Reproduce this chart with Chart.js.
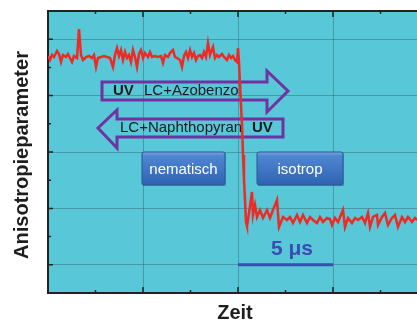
<!DOCTYPE html>
<html>
<head>
<meta charset="utf-8">
<script src="https://cdn.jsdelivr.net/npm/chart.js@4"></script>
<style>
  html, body { margin: 0; padding: 0; background: #fff; overflow: hidden; }
  #wrap { width: 417px; height: 320px; overflow: hidden; }
</style>
</head>
<body>
<div id="wrap"><canvas id="chart" width="423" height="320"></canvas></div>
<script>
// time in samples (95 samples = 5 µs), signal in arbitrary units
const TIME = [0, 2, 4, 6, 9, 11, 13, 15, 18, 20, 22, 24, 26, 29, 31, 33, 35, 38, 41, 44,
  46, 48, 50, 53, 56, 59, 62, 65, 67, 69, 71, 73, 75, 77, 79, 81, 83, 85, 87, 89,
  91, 93, 95, 97, 100, 102, 104, 107, 110, 113, 115, 117, 120, 122, 125, 127, 129, 132, 134, 136,
  138, 140, 142, 144, 146, 148, 150, 152, 154, 156, 158, 160, 162, 165, 167, 169, 171, 174, 176, 179,
  181, 183, 185, 187, 189, 190, 191, 192, 193, 194, 195, 196, 197, 198, 199, 201, 204, 205, 207, 209,
  212, 215, 219, 222, 225, 229, 231, 235, 239, 242, 245, 249, 252, 255, 259, 262, 265, 269, 272, 275,
  279, 282, 284, 287, 290, 295, 297, 300, 304, 307, 310, 314, 317, 320, 322, 325, 329, 330, 334, 337,
  340, 344, 347, 350, 354, 357, 360, 364, 367, 371, 375];
const SIGNAL = [237, 233, 238, 236, 242, 239, 231, 238, 236, 239, 235, 231, 237, 235, 264, 238, 233, 236, 237, 235,
  238, 226, 235, 236, 237, 236, 235, 226, 238, 245, 237, 243, 233, 241, 235, 238, 231, 243, 236, 226,
  239, 243, 235, 240, 236, 241, 236, 237, 236, 237, 230, 238, 236, 240, 243, 236, 235, 233, 226, 237,
  241, 235, 243, 236, 240, 233, 237, 238, 235, 241, 236, 250, 238, 246, 235, 238, 236, 239, 236, 233,
  238, 235, 237, 233, 231, 245, 231, 208, 188, 168, 138, 113, 93, 71, 67, 80, 101, 78, 88, 76,
  83, 75, 83, 75, 83, 93, 66, 76, 73, 76, 70, 78, 71, 78, 70, 76, 73, 70, 76, 71,
  75, 74, 68, 75, 71, 83, 66, 75, 70, 75, 73, 76, 70, 80, 66, 76, 78, 68, 76, 80,
  68, 75, 78, 66, 76, 71, 76, 71, 75, 72, 74];
const X_TICKS = [0, 47.5, 95, 142.5, 190, 237.5, 285, 332.5];
const Y_TICKS = [0, 28.2, 56.4, 84.6, 112.8, 141, 169.2, 197.4, 225.6, 253.8, 282];

const FONT = '"Liberation Sans", Arial, sans-serif';
const PURPLE = '#7133a2';
const GRID = 'rgba(60,115,125,0.55)';

const decor = {
  id: 'decor',
  beforeDraw(chart) {
    const {ctx, chartArea: a} = chart;
    ctx.save();
    ctx.fillStyle = '#58c7d8';
    ctx.fillRect(a.left, a.top, a.right - a.left, a.bottom - a.top);
    ctx.restore();
  },
  beforeDatasetsDraw(chart) {
    const {ctx} = chart;
    const px = t => chart.scales.x.getPixelForValue(t);
    const py = s => chart.scales.y.getPixelForValue(s);
    ctx.save();
    // arrows
    ctx.strokeStyle = PURPLE;
    ctx.lineWidth = 3;
    ctx.lineJoin = 'miter';
    const poly = pts => {
      ctx.beginPath();
      pts.forEach((p, i) => i ? ctx.lineTo(px(p[0]), py(p[1])) : ctx.moveTo(px(p[0]), py(p[1])));
      ctx.closePath();
      ctx.stroke();
    };
    poly([[54, 211], [219, 211], [219, 222], [240, 202], [219, 181], [219, 193], [54, 193]]);
    poly([[50, 165], [69, 183], [69, 174], [235, 174], [235, 156], [69, 156], [69, 145]]);
    ctx.fillStyle = '#1b1b1b';
    ctx.textBaseline = 'middle';
    ctx.textAlign = 'left';
    ctx.font = 'bold 15px ' + FONT;
    ctx.fillText('UV', px(65), py(202));
    ctx.fillText('UV', px(204), py(165));
    ctx.font = '15px ' + FONT;
    ctx.fillText('LC+Azobenzol', px(96), py(202));
    ctx.fillText('LC+Naphthopyran', px(72), py(165));
    // state boxes
    const box = (t0, t1, s0, s1, label) => {
      const x0 = px(t0), x1 = px(t1), y0 = py(s0), y1 = py(s1);
      ctx.fillStyle = 'rgba(30,60,110,0.35)';
      ctx.fillRect(x0 + 1, y0 + 1, x1 - x0, y1 - y0);
      const g = ctx.createLinearGradient(0, y0, 0, y1);
      g.addColorStop(0, '#78a6e4');
      g.addColorStop(0.12, '#4f86d0');
      g.addColorStop(1, '#2e63b2');
      ctx.fillStyle = g;
      ctx.beginPath();
      ctx.roundRect(x0, y0, x1 - x0, y1 - y0, 2);
      ctx.fill();
      ctx.strokeStyle = '#2a5698';
      ctx.lineWidth = 1;
      ctx.stroke();
      ctx.fillStyle = '#ffffff';
      ctx.font = '15px ' + FONT;
      ctx.textAlign = 'center';
      ctx.fillText(label, (x0 + x1) / 2, (y0 + y1) / 2 + 1);
    };
    box(94, 177, 141, 108, 'nematisch');
    box(209, 295, 141, 108, 'isotrop');
    ctx.restore();
  },
  afterDatasetsDraw(chart) {
    const {ctx, chartArea: a} = chart;
    const px = t => chart.scales.x.getPixelForValue(t);
    const py = s => chart.scales.y.getPixelForValue(s);
    ctx.save();
    // scale bar: 5 µs = 95 samples
    ctx.strokeStyle = '#3a4db0';
    ctx.lineWidth = 3;
    ctx.beginPath();
    ctx.moveTo(px(190), py(28.2));
    ctx.lineTo(px(285), py(28.2));
    ctx.stroke();
    ctx.fillStyle = '#3a4db0';
    ctx.font = 'bold 21px ' + FONT;
    ctx.textAlign = 'center';
    ctx.textBaseline = 'middle';
    ctx.fillText('5 μs', px(244), py(44));
    // frame top + inward ticks
    ctx.strokeStyle = '#222';
    ctx.lineWidth = 2;
    ctx.beginPath();
    ctx.moveTo(a.left - 1, a.top);
    ctx.lineTo(a.right, a.top);
    ctx.stroke();
    ctx.lineWidth = 1.5;
    ctx.beginPath();
    X_TICKS.forEach((t, i) => {
      if (i === 0) return;
      const x = px(t), len = i % 2 === 0 ? 6 : 3;
      ctx.moveTo(x, a.bottom); ctx.lineTo(x, a.bottom - len);
      ctx.moveTo(x, a.top); ctx.lineTo(x, a.top + len);
    });
    Y_TICKS.forEach((s, i) => {
      if (i === 0 || i === Y_TICKS.length - 1) return;
      const y = py(s), len = i % 2 === 1 ? 5 : 3;
      ctx.moveTo(a.left, y); ctx.lineTo(a.left + len, y);
    });
    ctx.stroke();
    // axis titles
    ctx.fillStyle = '#1e1e1e';
    ctx.font = 'bold 20px ' + FONT;
    ctx.textAlign = 'center';
    ctx.textBaseline = 'alphabetic';
    ctx.fillText('Zeit', 235, 319);
    ctx.translate(28, 155);
    ctx.rotate(-Math.PI / 2);
    ctx.fillText('Anisotropieparameter', 0, 0);
    ctx.restore();
  }
};

new Chart(document.getElementById('chart'), {
  type: 'line',
  data: {
    datasets: [{
      data: TIME.map((t, i) => ({x: t, y: SIGNAL[i]})),
      borderColor: '#ee2a24',
      borderWidth: 2.5,
      pointRadius: 0,
      tension: 0
    }]
  },
  options: {
    responsive: false,
    animation: false,
    devicePixelRatio: 1,
    layout: {padding: {left: 48, top: 11, right: 0, bottom: 27}},
    plugins: {legend: {display: false}, tooltip: {enabled: false}},
    scales: {
      x: {
        type: 'linear', min: 0, max: 375,
        afterBuildTicks: s => { s.ticks = X_TICKS.map(v => ({value: v})); },
        ticks: {display: false},
        grid: {drawTicks: false, color: c => (c.index % 2 === 0 && c.index > 0) ? GRID : 'transparent'},
        border: {color: '#222', width: 2}
      },
      y: {
        min: 0, max: 282,
        afterBuildTicks: s => { s.ticks = Y_TICKS.map(v => ({value: v})); },
        ticks: {display: false},
        grid: {drawTicks: false, color: c => (c.index % 2 === 1) ? GRID : 'transparent'},
        border: {color: '#222', width: 2}
      }
    }
  },
  plugins: [decor]
});
</script>
</body>
</html>
